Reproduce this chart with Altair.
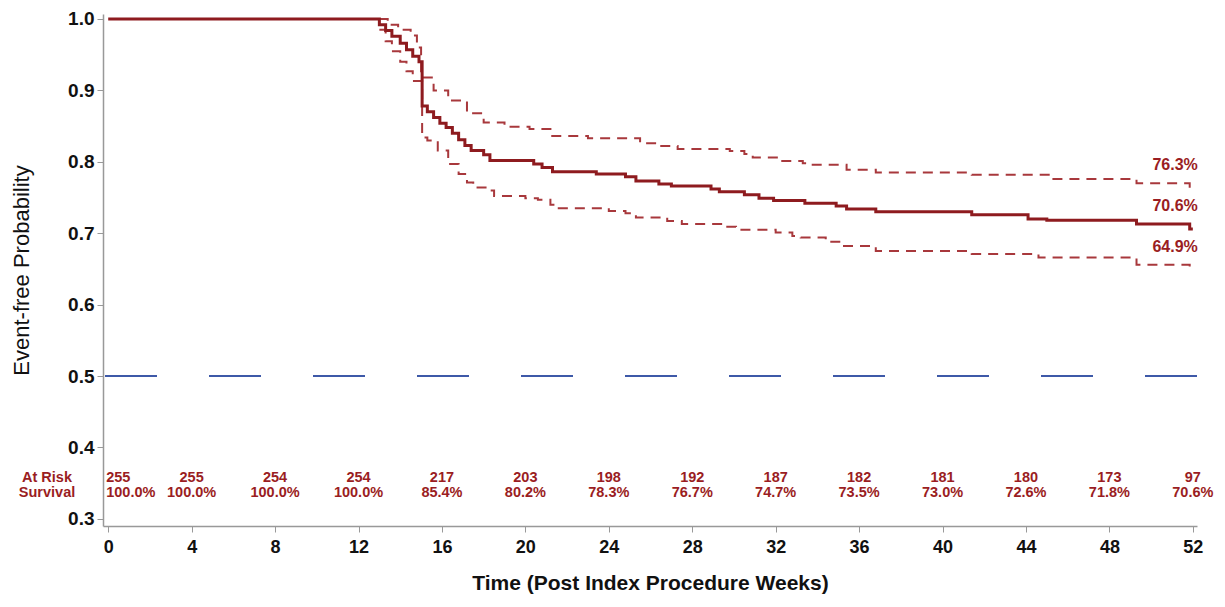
import altair as alt
import pandas as pd

# ---------------- data ----------------
week_ticks = [0, 4, 8, 12, 16, 20, 24, 28, 32, 36, 40, 44, 48, 52]
at_risk = [255, 255, 254, 254, 217, 203, 198, 192, 187, 182, 181, 180, 173, 97]
survival_txt = ["100.0%", "100.0%", "100.0%", "100.0%", "85.4%", "80.2%", "78.3%",
                "76.7%", "74.7%", "73.5%", "73.0%", "72.6%", "71.8%", "70.6%"]

km_time = [0, 13.0, 13.3, 13.6, 14.0, 14.3, 14.6, 14.9, 15.05, 15.3, 15.6, 15.9, 16.2,
           16.5, 16.8, 17.1, 17.4, 18.0, 18.3, 20.4, 20.8, 21.3, 23.4, 24.8, 25.3, 26.4,
           27.0, 28.9, 29.3, 30.5, 31.2, 31.9, 33.4, 34.9, 35.4, 36.8, 41.4, 44.1, 45.0,
           49.3, 51.85, 52.0]
km_surv = [1.0, 0.992, 0.984, 0.976, 0.966, 0.957, 0.948, 0.940, 0.878, 0.870, 0.862,
           0.854, 0.848, 0.840, 0.831, 0.823, 0.816, 0.810, 0.802, 0.797, 0.792, 0.786,
           0.783, 0.779, 0.773, 0.769, 0.766, 0.762, 0.758, 0.754, 0.749, 0.746, 0.742,
           0.738, 0.734, 0.730, 0.726, 0.720, 0.718, 0.713, 0.706, 0.706]

lcl_time = [13.0, 13.3, 13.6, 14.0, 14.3, 14.6, 15.05, 15.3, 15.8, 16.3, 16.8, 17.2,
            17.5, 18.2, 18.5, 20.0, 20.6, 21.2, 21.6, 24.0, 24.8, 25.3, 26.8, 27.5, 29.6,
            30.1, 32.0, 32.8, 33.2, 34.4, 35.2, 36.8, 41.4, 44.6, 49.3, 51.85, 52.0]
lcl = [0.985, 0.969, 0.955, 0.940, 0.927, 0.913, 0.834, 0.830, 0.816, 0.797, 0.783,
       0.771, 0.764, 0.760, 0.752, 0.749, 0.747, 0.740, 0.735, 0.731, 0.728, 0.722,
       0.717, 0.713, 0.709, 0.705, 0.701, 0.696, 0.694, 0.688, 0.682, 0.675, 0.671,
       0.666, 0.656, 0.649, 0.649]

ucl_time = [13.0, 13.4, 13.9, 14.5, 14.8, 15.0, 15.6, 16.3, 17.2, 18.0, 19.0, 20.2, 21.2,
            23.0, 25.5, 26.3, 27.3, 29.8, 30.5, 30.9, 32.2, 33.3, 33.6, 35.4, 36.8, 41.4,
            45.2, 49.3, 51.85, 52.0]
ucl = [1.0, 0.992, 0.985, 0.977, 0.960, 0.918, 0.900, 0.886, 0.868, 0.855, 0.849, 0.846,
       0.836, 0.833, 0.826, 0.822, 0.818, 0.815, 0.811, 0.806, 0.801, 0.798, 0.796, 0.789,
       0.785, 0.782, 0.776, 0.770, 0.763, 0.763]

end_labels = ["76.3%", "70.6%", "64.9%"]
end_values = [0.763, 0.706, 0.649]

# ---------------- styling ----------------
RED = "#8e1b1f"
CI_RED = "#a8383c"
TXT_RED = "#9a1d22"
BLUE = "#3e59a8"
FONT = "Liberation Sans"

xscale = alt.Scale(domain=[-0.25, 52.2], nice=False, zero=False)
yscale = alt.Scale(domain=[0.29, 1.007], nice=False, zero=False)

km_df = pd.DataFrame({"t": km_time, "s": km_surv})
lcl_df = pd.DataFrame({"t": lcl_time, "s": lcl})
ucl_df = pd.DataFrame({"t": ucl_time, "s": ucl})
end_df = pd.DataFrame({"t": [52.0] * 3, "s": end_values, "lab": end_labels})
tab_df = pd.DataFrame({"week": week_ticks, "n": [str(v) for v in at_risk],
                       "pct": survival_txt})

x_enc = alt.X("t:Q", scale=xscale,
              axis=alt.Axis(values=week_ticks, format="d",
                            title="Time (Post Index Procedure Weeks)",
                            grid=False))
y_enc = alt.Y("s:Q", scale=yscale,
              axis=alt.Axis(values=[0.3, 0.4, 0.5, 0.6, 0.7, 0.8, 0.9, 1.0], format=".1f",
                            title="Event-free Probability", grid=False))

ref = alt.Chart(pd.DataFrame({"s": [0.5]})).mark_rule(
    color=BLUE, strokeWidth=2, strokeDash=[52, 52]
).encode(y=alt.Y("s:Q", scale=yscale))

ci_lo = alt.Chart(lcl_df).mark_line(
    interpolate="step-after", color=CI_RED, strokeWidth=2, strokeDash=[10, 7]
).encode(x=alt.X("t:Q", scale=xscale), y=alt.Y("s:Q", scale=yscale))

ci_hi = alt.Chart(ucl_df).mark_line(
    interpolate="step-after", color=CI_RED, strokeWidth=2, strokeDash=[10, 7]
).encode(x=alt.X("t:Q", scale=xscale), y=alt.Y("s:Q", scale=yscale))

km = alt.Chart(km_df).mark_line(
    interpolate="step-after", color=RED, strokeWidth=3
).encode(x=x_enc, y=y_enc)

ends = alt.Chart(end_df).mark_text(
    align="right", baseline="middle", dx=5, dy=-23, font=FONT, fontSize=16,
    fontWeight="bold", color=TXT_RED
).encode(x=alt.X("t:Q", scale=xscale), y=alt.Y("s:Q", scale=yscale), text="lab:N")

ROW1 = 0.3575
ROW2 = 0.3365
TAB_SIZE = 14.5

def table_layer(col, yv, data_filter, align, dx):
    return alt.Chart(tab_df).transform_filter(data_filter).mark_text(
        align=align, baseline="middle", dx=dx, font=FONT, fontSize=TAB_SIZE,
        fontWeight="bold", color=TXT_RED
    ).encode(x=alt.X("week:Q", scale=xscale), y=alt.datum(yv), text=f"{col}:N")

tab_layers = [
    table_layer("n", ROW1, alt.datum.week > 0, "center", 0),
    table_layer("pct", ROW2, alt.datum.week > 0, "center", 0),
    table_layer("n", ROW1, alt.datum.week == 0, "left", -2),
    table_layer("pct", ROW2, alt.datum.week == 0, "left", -2),
]

row_labels = alt.Chart(pd.DataFrame({"lab": ["At Risk", "Survival"], "y": [ROW1, ROW2]})).mark_text(
    align="center", baseline="middle", font=FONT, fontSize=TAB_SIZE, fontWeight="bold",
    color=TXT_RED
).encode(x=alt.value(-56), y=alt.Y("y:Q", scale=yscale), text="lab:N")

chart = alt.layer(ref, ci_lo, ci_hi, km, ends, *tab_layers, row_labels).properties(
    width=1094, height=512,
    autosize=alt.AutoSizeParams(type="none"),
    padding={"left": 95, "top": 6, "right": 20, "bottom": 70},
).configure_view(stroke=None).configure_axis(
    labelFont=FONT, labelFontWeight="bold", labelColor="#111", labelFontSize=18,
    titleFont=FONT, titleColor="#111", domainColor="#999", tickColor="#999",
    tickSize=6, domainWidth=1.5
).configure_axisX(
    labelPadding=6, titleFontSize=21, titleFontWeight="bold", titlePadding=16,
    labelFlush=False
).configure_axisY(
    labelPadding=3, titleFontSize=22, titleFontWeight="normal", titlePadding=34,
    labelFontSize=19
)

chart.save("out.html", embed_options={"renderer": "svg", "actions": False})
